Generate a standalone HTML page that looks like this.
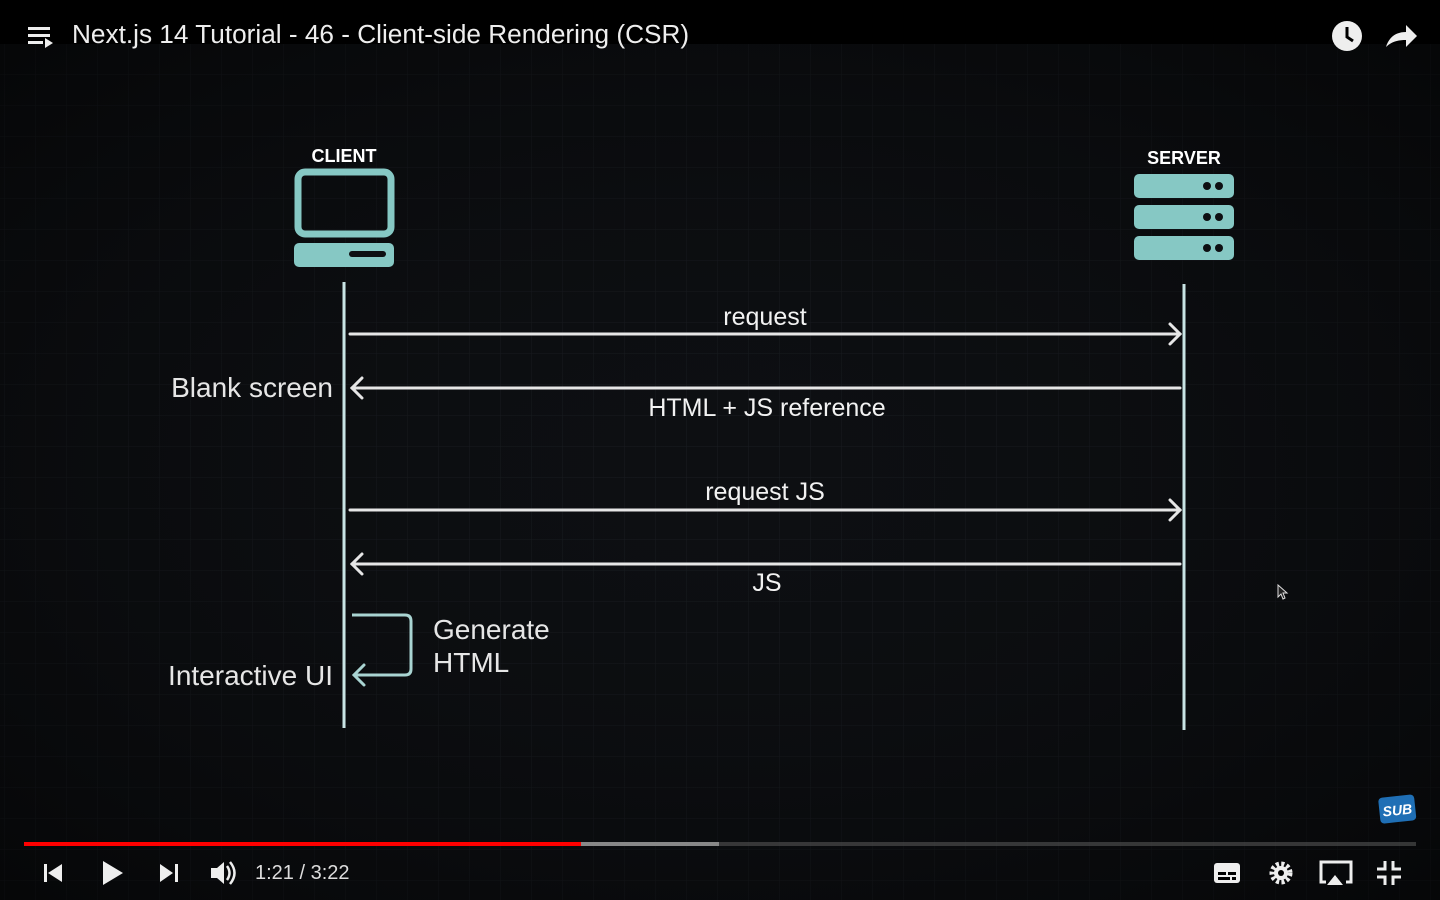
<!DOCTYPE html>
<html><head><meta charset="utf-8"><style>
html,body{margin:0;padding:0;background:#000;}
body{width:1440px;height:900px;overflow:hidden;position:relative;font-family:"Liberation Sans",sans-serif;}
</style></head><body>
<svg width="1440" height="900" viewBox="0 0 1440 900" xmlns="http://www.w3.org/2000/svg" style="position:absolute;left:0;top:0">
<defs>
<pattern id="g" x="5" y="44" width="31" height="31" patternUnits="userSpaceOnUse">
<path d="M31 0V31M0 31H31" stroke="#1a1d22" stroke-width="1" fill="none"/>
</pattern>
<radialGradient id="v" cx="50%" cy="50%" r="70%"><stop offset="0" stop-color="#0c0d10" stop-opacity="0"/><stop offset="1" stop-color="#000" stop-opacity="0.55"/></radialGradient>
</defs>
<rect x="0" y="44" width="1440" height="856" fill="#0d0f12"/>
<rect x="0" y="44" width="1440" height="856" fill="url(#g)"/>
<rect x="0" y="44" width="1440" height="856" fill="url(#v)"/>
<rect x="0" y="0" width="1440" height="44" fill="#000"/>
<g fill="#eee"><rect x="28" y="27" width="22" height="3"/><rect x="28" y="34" width="22" height="3"/><rect x="28" y="41" width="15" height="3"/><path d="M45 38l8 5-8 5z"/></g>
<text x="72" y="43" fill="#eee" font-size="26.2">Next.js 14 Tutorial - 46 - Client-side Rendering (CSR)</text>
<circle cx="1347" cy="36" r="15" fill="#eee"/><path d="M1347 27v10l6 4" stroke="#000" stroke-width="3" fill="none"/>
<path d="M1386 47c3-10 10-15 20-15v-7l11 11-11 11v-7c-9 0-15 2-20 7z" fill="#eee"/>
<text x="344" y="162" fill="#fff" font-size="18" font-weight="bold" text-anchor="middle">CLIENT</text>
<rect x="298" y="172" width="93" height="62" rx="7" fill="none" stroke="#86c8c4" stroke-width="7"/>
<rect x="294" y="243" width="100" height="24" rx="5" fill="#86c8c4"/>
<rect x="349" y="251" width="37" height="6" rx="3" fill="#0d0f12"/>
<text x="1184" y="164" fill="#fff" font-size="18" font-weight="bold" text-anchor="middle">SERVER</text>
<g fill="#86c8c4"><rect x="1134" y="174" width="100" height="24" rx="5"/><rect x="1134" y="205" width="100" height="24" rx="5"/><rect x="1134" y="236" width="100" height="24" rx="5"/></g>
<g fill="#0d0f12"><circle cx="1207" cy="186" r="4"/><circle cx="1219" cy="186" r="4"/><circle cx="1207" cy="217" r="4"/><circle cx="1219" cy="217" r="4"/><circle cx="1207" cy="248" r="4"/><circle cx="1219" cy="248" r="4"/></g>
<line x1="344" y1="282" x2="344" y2="728" stroke="#c8e4e4" stroke-width="3"/>
<line x1="1184" y1="284" x2="1184" y2="730" stroke="#c8e4e4" stroke-width="3"/>
<g stroke="#e6e6e6" stroke-width="3" fill="none" stroke-linecap="round">
<line x1="350" y1="334" x2="1180" y2="334"/><path d="M1170 324l10 10-10 10"/>
<line x1="352" y1="388" x2="1180" y2="388"/><path d="M362 378l-10 10 10 10"/>
<line x1="350" y1="510" x2="1180" y2="510"/><path d="M1170 500l10 10-10 10"/>
<line x1="352" y1="564" x2="1180" y2="564"/><path d="M362 554l-10 10 10 10"/>
</g>
<path d="M352 615H405q6 0 6 6V669q0 6-6 6H354" stroke="#a9d4d2" stroke-width="3" fill="none"/>
<path d="M364 665l-10 10 10 10" stroke="#a9d4d2" stroke-width="3" fill="none" stroke-linecap="round"/>
<g fill="#f2f2f2" font-size="25" text-anchor="middle">
<text x="765" y="325">request</text>
<text x="767" y="416">HTML + JS reference</text>
<text x="765" y="500">request JS</text>
<text x="767" y="591">JS</text>
</g>
<g fill="#e6e6e6" font-size="28">
<text x="333" y="397" text-anchor="end">Blank screen</text>
<text x="333" y="685" text-anchor="end">Interactive UI</text>
<text x="433" y="639">Generate</text>
<text x="433" y="672">HTML</text>
</g>
<path d="M1278 585v12l3-3 2 5 2-1-2-5h4z" fill="#222" stroke="#ddd" stroke-width="1"/>
<g transform="translate(1378 798) rotate(-6)"><rect width="36" height="26" rx="4" fill="#1f6fb5"/><text x="18" y="19" fill="#fff" font-size="14" font-weight="bold" font-style="italic" text-anchor="middle">SUB</text></g>
<rect x="24" y="842" width="1392" height="4" fill="#555" fill-opacity="0.6"/>
<rect x="580" y="842" width="139" height="4" fill="#888"/>
<rect x="24" y="842" width="557" height="4" fill="#f00"/>
<g fill="#eee">
<rect x="44" y="864" width="3" height="18"/><path d="M62 864v18l-14-9z"/>
<path d="M103 861v24l20-12z"/>
<path d="M160 864v18l13-9z"/><rect x="175" y="864" width="3" height="18"/>
<path d="M211 868h6l7-6v22l-7-6h-6z"/>
</g>
<path d="M227 866q5 7 0 14M230 862q9 11 0 22" stroke="#eee" stroke-width="2.5" fill="none"/>
<text x="255" y="879" fill="#ddd" font-size="20">1:21 / 3:22</text>
<rect x="1214" y="863" width="26" height="20" rx="3" fill="#eee"/>
<g fill="#000"><rect x="1218" y="872" width="8" height="3"/><rect x="1228" y="872" width="8" height="3"/><rect x="1218" y="877" width="12" height="3"/><rect x="1232" y="877" width="4" height="3"/></g>
<circle cx="1281" cy="873" r="9" fill="none" stroke="#eee" stroke-width="5" stroke-dasharray="3 2.3"/>
<circle cx="1281" cy="873" r="7" fill="#eee"/><circle cx="1281" cy="873" r="3" fill="#000"/>
<path d="M1326 882h-5v-20h30v20h-5" stroke="#eee" stroke-width="3" fill="none"/>
<path d="M1335 875l-8 10h16z" fill="#eee"/>
<path d="M1385 861v8h-8M1393 861v8h8M1385 885v-8h-8M1393 885v-8h8" stroke="#eee" stroke-width="3" fill="none"/>
</svg>
</body></html>
